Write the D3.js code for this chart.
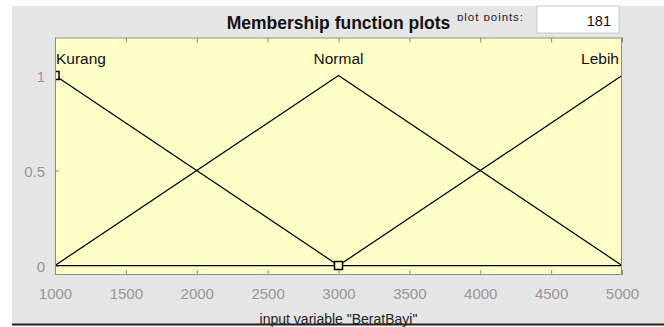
<!DOCTYPE html>
<html><head><meta charset="utf-8">
<script src="https://cdn.jsdelivr.net/npm/d3@7"></script>
<style>html,body{margin:0;padding:0;background:#fff;}svg{display:block;font-family:"Liberation Sans",Arial,sans-serif;}</style>
</head><body>
<svg id="c" width="664" height="327"></svg>
<script>
const title = "Membership function plots";
const xLabel = 'input variable "BeratBayi"';
const plotPointsLabel = "plot points:";
const plotPoints = 181;
const categories = ["Kurang", "Normal", "Lebih"];
const mfX = [1000, 3000, 5000];
const kurangY = [1, 0, 0];
const normalY = [0, 1, 0];
const lebihY = [0, 0, 1];
const seriesY = [kurangY, normalY, lebihY];
const peakX = [1000, 3000, 5000];
const markerPts = [[1000, 1], [3000, 0]];
const xTicks = [1000, 1500, 2000, 2500, 3000, 3500, 4000, 4500, 5000];
const yTicks = [0, 0.5, 1];

const svg = d3.select("#c");
const W = 664, H = 327;
const L = 55, R = 622, T = 37.5, B = 275;

// figure background
svg.append("rect").attr("x", 12).attr("y", 6).attr("width", W - 12).attr("height", 318).attr("fill", "#e5e5e5");

const x = d3.scaleLinear().domain([1000, 5000]).range([L, R]);
const y = d3.scaleLinear().domain([-0.05, 1.2]).range([B, T]);

svg.append("rect").attr("x", L).attr("y", T).attr("width", R - L).attr("height", B - T).attr("fill", "#ffffc8");

svg.append("defs").append("clipPath").attr("id", "pc").append("rect")
  .attr("x", L).attr("y", T).attr("width", R - L).attr("height", B - T);

// axes ticks
const axB = svg.append("g").attr("transform", `translate(0,${B})`)
  .call(d3.axisBottom(x).tickValues(xTicks).tickSize(-5).tickPadding(13).tickFormat(d3.format("d")));
const axT = svg.append("g").attr("transform", `translate(0,${T})`)
  .call(d3.axisTop(x).tickValues(xTicks).tickSize(-5).tickFormat(""));
const axL = svg.append("g").attr("transform", `translate(${L},0)`)
  .call(d3.axisLeft(y).tickValues(yTicks).tickSize(-4).tickPadding(10).tickFormat(d => d3.format("")(d)));
[axB, axT, axL].forEach(a => {
  a.select(".domain").remove();
  a.selectAll(".tick line").attr("stroke", "#8a8a8a");
  a.selectAll("text").attr("fill", "#979797").attr("font-size", 15).attr("font-family", "Liberation Sans, Arial, sans-serif");
});
axL.selectAll("text").attr("dy", "0.4em");

// lines
const line = d3.line().x(d => x(d[0])).y(d => y(d[1]));
const g = svg.append("g").attr("clip-path", "url(#pc)");
seriesY.forEach(ys => {
  g.append("path").attr("d", line(mfX.map((v, i) => [v, ys[i]])))
    .attr("fill", "none").attr("stroke", "#000").attr("stroke-width", 1.25);
});

// box
svg.append("rect").attr("x", L + 0.5).attr("y", T + 0.5).attr("width", R - L - 1).attr("height", B - T - 1)
  .attr("fill", "none").attr("stroke", "#8a8a8a").attr("stroke-width", 1);

// markers
g.selectAll("rect.m").data(markerPts).enter().append("rect").attr("class", "m")
  .attr("x", d => x(d[0]) - 4).attr("y", d => y(d[1]) - 4).attr("width", 8).attr("height", 8)
  .attr("fill", "#ffffc8").attr("stroke", "#000").attr("stroke-width", 1.5);

// MF labels
categories.forEach((c, i) => {
  const px = x(peakX[i]);
  const anchor = i === 0 ? "start" : (i === categories.length - 1 ? "end" : "middle");
  svg.append("text").attr("x", i === 0 ? px + 1 : (i === categories.length - 1 ? px - 3 : px))
    .attr("y", 64).attr("text-anchor", anchor).attr("font-size", 15.5).attr("fill", "#111").text(c);
});

// title
svg.append("text").attr("x", (L + R) / 2).attr("y", 29).attr("text-anchor", "middle")
  .attr("font-size", 17.5).attr("font-weight", "bold").attr("fill", "#111").text(title);

// plot points label (clipped)
svg.select("defs").append("clipPath").attr("id", "ppc").append("rect")
  .attr("x", 440).attr("y", 0).attr("width", 95).attr("height", 21);
svg.append("text").attr("x", 457).attr("y", 21).attr("font-size", 11.5).attr("fill", "#222")
  .attr("clip-path", "url(#ppc)").attr("textLength", 66).text(plotPointsLabel);

svg.append("rect").attr("x", 537).attr("y", 6).attr("width", 82).attr("height", 27).attr("fill", "#fff")
  .attr("stroke", "#c8c8c8");
svg.append("text").attr("x", 611).attr("y", 26).attr("text-anchor", "end").attr("font-size", 14.5)
  .attr("fill", "#111").text(plotPoints);

// x label
svg.append("text").attr("x", (L + R) / 2).attr("y", 324).attr("text-anchor", "middle")
  .attr("font-size", 14).attr("fill", "#222").text(xLabel);
svg.append("rect").attr("x", 12).attr("y", 323.5).attr("width", W - 12).attr("height", 2).attr("fill", "#222");
</script>
</body></html>
